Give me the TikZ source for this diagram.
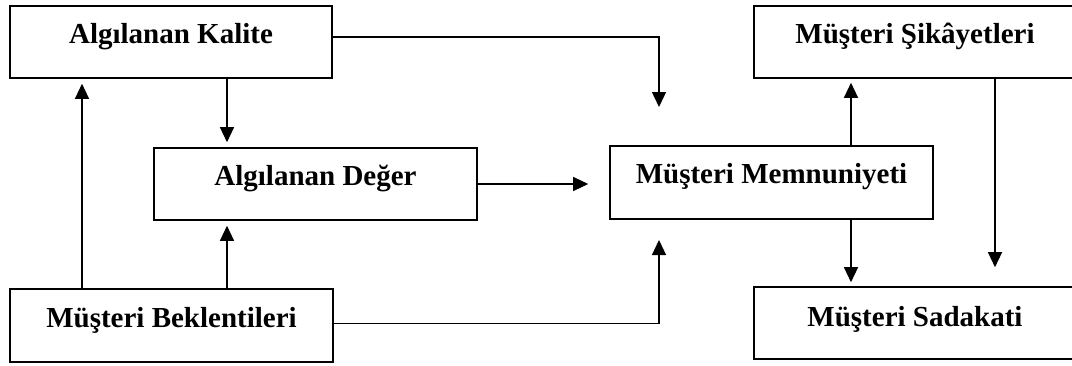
\documentclass[tikz,border=0pt]{standalone}
\usepackage{fontspec}
\setmainfont{Liberation Serif}
\usetikzlibrary{arrows.meta}
\begin{document}
\begin{tikzpicture}[x=1pt,y=-1pt,
  box/.style={draw,line width=1.6pt,rectangle,inner sep=0pt,
    minimum width=322pt,text height=37pt,text depth=35pt,
    font=\fontsize{29}{34}\selectfont\bfseries},
  arr/.style={line width=1.3pt,-{Triangle[length=15pt,width=14pt]}},
  ln/.style={line width=1.3pt}]
\useasboundingbox (0,0) rectangle (1072,365);

% boxes
\node[box] (K) at (171,42) {Algılanan Kalite};
\node[box] (C) at (915,42) {Müşteri Şikâyetleri};
\node[box,minimum width=323pt] (D) at (315.5,184) {Algılanan Değer};
\node[box,minimum width=323pt,text depth=36pt] (M) at (771.5,182.5) {Müşteri Memnuniyeti};
\node[box,minimum width=323pt,text height=38pt,text depth=35pt] (B) at (171.5,325.5) {Müşteri Beklentileri};
\node[box,text height=39pt,text depth=33pt] (S) at (915,323) {Müşteri Sadakati};

% free ends of the two elbow arrows
\coordinate (m1) at (659,107);
\coordinate (m2) at (659,240);

% connectors
\draw[arr] ([yshift=5pt]K.east) -| (m1);
\draw[arr,shorten >=5pt] (K.south -| 227,0) -- (D.north -| 227,0);
\draw[arr,shorten >=5pt] (B.north -| 82,0) -- (K.south -| 82,0);
\draw[arr,shorten >=5pt] (B.north -| 227,0) -- (D.south -| 227,0);
\draw[arr] ([yshift=2pt]B.east) -| (m2);
\draw[arr,shorten >=21pt] (D.east) -- (D.east -| M.west);
\draw[arr,shorten >=4pt] (M.north -| 851,0) -- (C.south -| 851,0);
\draw[arr,shorten >=4pt] (M.south -| 851,0) -- (S.north -| 851,0);
\draw[arr,shorten >=19pt] (C.south -| 995,0) -- (S.north -| 995,0);
\end{tikzpicture}
\end{document}
